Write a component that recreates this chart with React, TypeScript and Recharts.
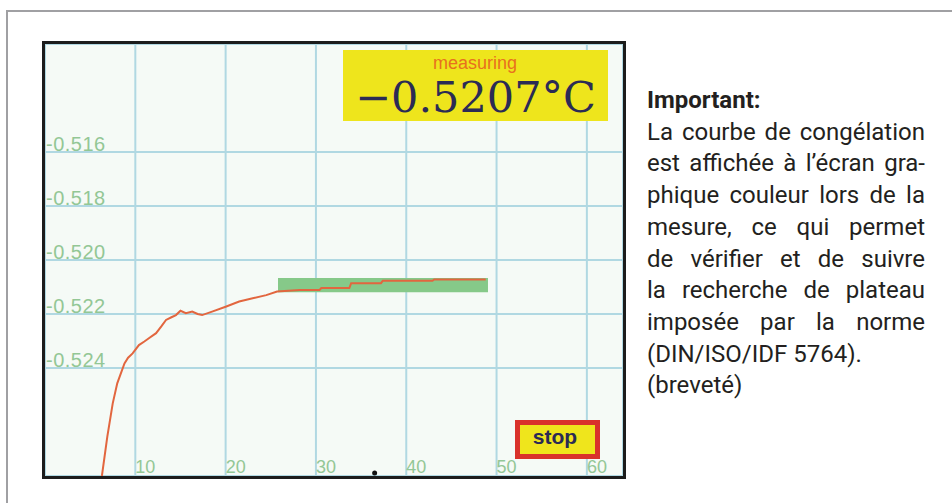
import { LineChart, Line, XAxis, YAxis, CartesianGrid, ReferenceArea, ReferenceDot } from 'recharts'

// seconds since start / freezing point reading (°C)
const times = [6.3, 6.9, 7.5, 8.0, 8.8, 9.2, 9.7, 10.4, 11.0, 11.5, 12.3, 12.9, 13.4, 14.0, 14.5, 15.0, 15.6, 16.3, 16.9, 17.4, 18.5, 20.0, 21.5, 23.0, 24.5, 25.7, 28.2, 30.4, 30.6, 33.7, 33.9, 37.2, 37.4, 42.9, 43.1, 48.8]
const temps = [-0.528, -0.52654, -0.52531, -0.52457, -0.52383, -0.52362, -0.52346, -0.52315, -0.52302, -0.5229, -0.52271, -0.52245, -0.52222, -0.52212, -0.52204, -0.52188, -0.52197, -0.52191, -0.522, -0.52204, -0.52191, -0.52173, -0.52154, -0.52142, -0.5213, -0.52117, -0.52111, -0.52111, -0.52104, -0.52104, -0.52086, -0.52086, -0.52077, -0.52077, -0.52072, -0.52072]

const xTicks = [10, 20, 30, 40, 50, 60]
const yTicks = [-0.524, -0.522, -0.52, -0.518, -0.516]

// plateau search window
const plateauX = [25.8, 49.05]
const plateauY = [-0.52119, -0.52067]

const reading = '−0.5207°C'
const status = 'measuring'

const noteTitle = 'Important:'
const noteLines = [
  'La courbe de congélation',
  'est affichée à l’écran gra-',
  'phique couleur lors de la',
  'mesure, ce qui permet',
  'de vérifier et de suivre',
  'la recherche de plateau',
  'imposée par la norme',
]
const noteTail = ['(DIN/ISO/IDF 5764).', '(breveté)']

const data = times.map((t, i) => ({ t, v: temps[i] }))

const LABEL = '#93c795'

const xTick = ({ x, payload }: any) => (
  <text x={x} y={429} fill={LABEL} fontSize={18} fontFamily="Liberation Sans, Arial, sans-serif" textAnchor="start">
    {payload.value}
  </text>
)

const yTick = ({ y, payload }: any) => (
  <text x={1} y={y - 1} fill={LABEL} fontSize={20} letterSpacing={0.5} fontFamily="Liberation Sans, Arial, sans-serif" textAnchor="start">
    {Number(payload.value).toFixed(3)}
  </text>
)

export default function App() {
  return (
    <div style={{ position: 'absolute', left: 0, top: 0, width: 952, height: 503, background: '#fff', overflow: 'hidden' }}>
      <div style={{ position: 'absolute', left: 6, top: 10, width: 960, height: 510, borderTop: '2.5px solid #a0a0a3', borderLeft: '2.5px solid #a0a0a3' }} />

      <div style={{ position: 'absolute', left: 42, top: 41, width: 578, height: 432, border: '3px solid #1c1c1c' }}>
        <LineChart width={578} height={432} data={data} margin={{ top: 0, right: 0, bottom: 0, left: 0 }} style={{ background: '#f5faf6' }}>
          <CartesianGrid stroke="#b0d8e2" strokeWidth={2} />
          <XAxis dataKey="t" type="number" domain={[0, 64]} ticks={xTicks} interval={0} mirror axisLine={false} tickLine={false} tick={xTick} allowDataOverflow />
          <YAxis type="number" domain={[-0.528, -0.512]} ticks={yTicks} interval={0} mirror axisLine={false} tickLine={false} tick={yTick} allowDataOverflow />
          <ReferenceArea x1={plateauX[0]} x2={plateauX[1]} y1={plateauY[0]} y2={plateauY[1]} fill="#86c989" fillOpacity={1} stroke="none" />
          <Line dataKey="v" type="linear" stroke="#e2663f" strokeWidth={2} dot={false} isAnimationActive={false} />
          <ReferenceDot x={36.5} y={-0.52789} r={2.5} fill="#111" stroke="none" />
        </LineChart>
      </div>

      <svg width={952} height={503} style={{ position: 'absolute', left: 0, top: 0, pointerEvents: 'none' }}>
        <rect x={343} y={50} width={265} height={71} fill="#eee51c" />
        <text x={475} y={69} textAnchor="middle" fill="#e8701e" fontSize={18} fontFamily="Liberation Sans, Arial, sans-serif">{status}</text>
        <text x={475.5} y={112} textAnchor="middle" fill="#2b2b55" fontSize={43} fontFamily="DejaVu Serif, serif">{reading}</text>
        <rect x={517.5} y={422.5} width={80} height={34} fill="#efe51c" stroke="#d9322b" strokeWidth={5} />
        <text x={555} y={444} textAnchor="middle" fill="#2a2a55" fontSize={21} fontWeight="bold" fontFamily="Liberation Sans, Arial, sans-serif">stop</text>
      </svg>

      <div style={{ position: 'absolute', left: 647, top: 85, width: 278, fontFamily: 'Roboto, sans-serif', fontSize: 24, lineHeight: '31.7px', color: '#231f20' }}>
        <div style={{ fontWeight: 'bold' }}>{noteTitle}</div>
        {noteLines.map((l) => (
          <div key={l} style={{ whiteSpace: 'nowrap', textAlign: 'justify', textAlignLast: 'justify' }}>{l}</div>
        ))}
        {noteTail.map((l) => (
          <div key={l} style={{ whiteSpace: 'nowrap' }}>{l}</div>
        ))}
      </div>
    </div>
  )
}
